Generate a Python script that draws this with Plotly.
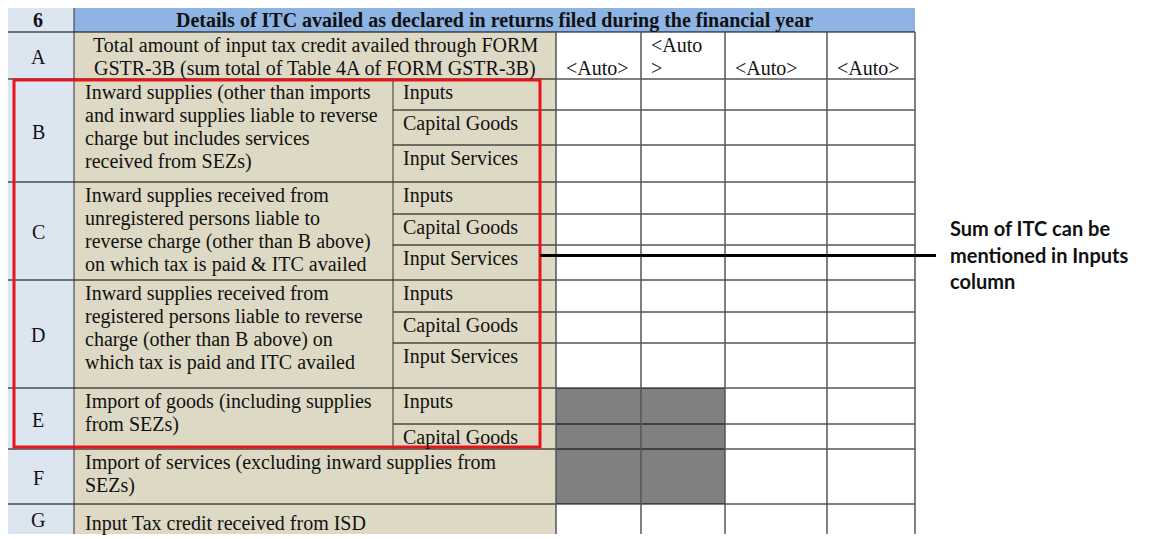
import plotly.graph_objects as go

# table content
section_no = "6"
section_title = "Details of ITC availed as declared in returns filed during the financial year"
row_letters = ["A", "B", "C", "D", "E", "F", "G"]
row_desc = [
    ["Total amount of input tax credit availed through FORM",
     "GSTR-3B (sum total of Table 4A of FORM GSTR-3B)"],
    ["Inward supplies (other than imports",
     "and inward supplies liable to reverse",
     "charge but includes services",
     "received from SEZs)"],
    ["Inward supplies received from",
     "unregistered persons liable to",
     "reverse charge (other than B above)",
     "on which tax is paid & ITC availed"],
    ["Inward supplies received from",
     "registered persons liable to reverse",
     "charge (other than B above) on",
     "which tax is paid and ITC availed"],
    ["Import of goods (including supplies",
     "from SEZs)"],
    ["Import of services (excluding inward supplies from",
     "SEZs)"],
    ["Input Tax credit received from ISD"],
]
row_subs = [
    [],
    ["Inputs", "Capital Goods", "Input Services"],
    ["Inputs", "Capital Goods", "Input Services"],
    ["Inputs", "Capital Goods", "Input Services"],
    ["Inputs", "Capital Goods"],
    [],
    [],
]
auto_cells = [["<Auto>"], ["<Auto", ">"], ["<Auto>"], ["<Auto>"]]
note_lines = ["Sum of ITC can be", "mentioned in Inputs", "column"]

# layout of the grid (pixels)
col_x = [2, 74, 393, 556, 641, 725, 827, 915]
head_top, head_bot = 2, 32
row_top = [32, 79, 182, 280, 388, 449, 504]
row_bot = [79, 182, 280, 388, 449, 504, 534]
sub_tops = [[], [79, 110, 145], [182, 214, 245], [280, 312, 343], [388, 424], [], []]
grey_rows = ["E", "F"]

LETTER_BG = "#dce6f1"
DESC_BG = "#ddd9c4"
HEAD_BG = "#8db4e2"
GREY = "#808080"
TXT = "#111111"
SERIF = "Liberation Serif"
FS = 20

# the page body adds an 8px margin around the figure
PAGE_PAD = 8

shapes = []
ann = []


def rect(x0, y0, x1, y1, fill):
    shapes.append(dict(type="rect", x0=x0, y0=y0, x1=x1, y1=y1, fillcolor=fill,
                       line=dict(width=0), layer="below"))


def line(x0, y0, x1, y1, color="black", width=1):
    shapes.append(dict(type="line", x0=x0, y0=y0, x1=x1, y1=y1,
                       line=dict(color=color, width=width)))


def text(x, y, s, size=FS, bold=False, anchor="left", family=SERIF, color=TXT):
    if bold:
        s = "<b>" + s + "</b>"
    if anchor == "left":
        x -= 2  # annotation box padding
    ann.append(dict(x=x, y=y, text=s, showarrow=False, xanchor=anchor, yanchor="middle",
                    font=dict(family=family, size=size, color=color)))


# header row
rect(col_x[0], head_top, col_x[1], head_bot, LETTER_BG)
rect(col_x[1], head_top, col_x[-1], head_bot, HEAD_BG)
text((col_x[0] + col_x[1]) / 2, 20, section_no, bold=True, anchor="center")
text((col_x[1] + col_x[-1]) / 2, 20, section_title, bold=True, anchor="center")

for i, letter in enumerate(row_letters):
    t, b = row_top[i], row_bot[i]
    rect(col_x[0], t, col_x[1], b, LETTER_BG)
    rect(col_x[1], t, col_x[3], b, DESC_BG)
    text((col_x[0] + col_x[1]) / 2, (t + b) / 2 + 1, letter, anchor="center")
    # description lines
    if i == 0:
        for k, s in enumerate(row_desc[i]):
            text((col_x[1] + col_x[3]) / 2, t + 13 + 23 * k, s, anchor="center")
    elif i == 6:
        text(85, (t + b) / 2 + 4, row_desc[i][0])
    else:
        for k, s in enumerate(row_desc[i]):
            text(85, t + 13 + 23 * k, s)
    # sub labels
    for k, s in enumerate(row_subs[i]):
        text(403, sub_tops[i][k] + 13, s)
    if letter in grey_rows:
        rect(col_x[3], t, col_x[5], b, GREY)

# <Auto> cells of row A
for c, parts in enumerate(auto_cells):
    x = col_x[3 + c] + 10
    if len(parts) == 1:
        text(x, 68, parts[0])
    else:
        text(x, 45, parts[0])
        text(x, 68, parts[1])

# horizontal rules
line(col_x[0], head_top, col_x[-1], head_top)
line(col_x[0], head_bot, col_x[-1], head_bot)
for b in row_bot[:-1]:
    line(col_x[0], b, col_x[-1], b)
for i, tops in enumerate(sub_tops):
    for y in tops[1:]:
        line(col_x[2], y, col_x[-1], y)

# vertical rules
bottom = row_bot[-1]
line(col_x[0], 0, col_x[0], bottom, "#222222")
line(col_x[1], 0, col_x[1], bottom, "#333333")
line(col_x[2], 0, col_x[2], head_top)
line(col_x[2], row_top[1], col_x[2], row_bot[4], "#333333")
for x in col_x[3:]:
    line(x, 0, x, head_top, "#555555", 1.5)
    line(x, head_bot, x, bottom, "#555555", 1.5)

# highlight box and callout
shapes.append(dict(type="rect", x0=14, y0=80, x1=540, y1=447,
                   line=dict(color="#e8141c", width=3), fillcolor="rgba(0,0,0,0)"))
line(540, 255.5, 936, 255.5, "black", 3)
for k, s in enumerate(note_lines):
    text(950, 228 + 26.5 * k, s, size=20, bold=True, family="Lato", color="#111111")

fig = go.Figure()
fig.update_layout(
    width=1152, height=539,
    margin=dict(l=0, r=0, t=0, b=0),
    paper_bgcolor="white", plot_bgcolor="white",
    xaxis=dict(range=[PAGE_PAD, 1152 + PAGE_PAD], visible=False, fixedrange=True),
    yaxis=dict(range=[539 + PAGE_PAD, PAGE_PAD], visible=False, fixedrange=True),
    shapes=shapes, annotations=ann, showlegend=False,
)
fig.write_html("out.html")
